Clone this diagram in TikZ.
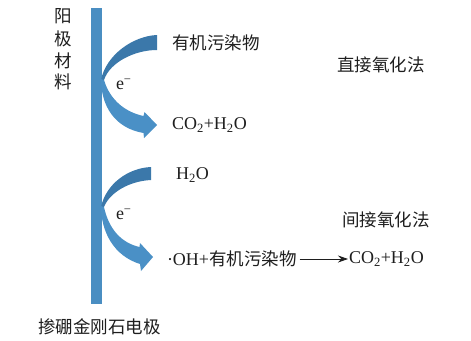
\documentclass[tikz,border=0pt]{standalone}
\usepackage{fontspec}
\setmainfont{Liberation Serif}
\newfontfamily\cjk{Noto Sans CJK SC}
\usetikzlibrary{arrows.meta}
\definecolor{barblue}{HTML}{4A8EC2}
\definecolor{darkblue}{HTML}{3B78AA}
\definecolor{lightblue}{HTML}{4A90C6}
\definecolor{txt}{HTML}{1E1E1E}
\tikzset{
  lbl/.style={inner sep=0pt, outer sep=1pt, text=txt, font=\fontsize{18}{21}\selectfont},
  cj/.style={lbl, font=\cjk\fontsize{17.5}{21}\selectfont},
  el/.style={lbl, font=\fontsize{18}{21}\selectfont},
}
\newcommand{\sub}[1]{\textsubscript{#1}}
\begin{document}
\begin{tikzpicture}[x=1pt,y=-1pt]
\useasboundingbox (0,0) rectangle (471,340);
% electrode bar
\fill[barblue] (91,8) rectangle (101.5,304);
% upper arrow
\fill[darkblue] (157,35) .. controls (133,36) and (106,55) .. (101,80) -- (104,80)
   .. controls (110,62) and (135,50) .. (157,50) -- cycle;
\fill[lightblue] (101,79) .. controls (101,105) and (114,128) .. (143.5,133)
   -- (144,138) -- (157,125) -- (144.5,112) -- (143.5,116)
   .. controls (125,112) and (110,100) .. (104,80) -- cycle;
% lower arrow
\fill[darkblue] (151,167) .. controls (128,168) and (106,184) .. (101,207) -- (104,207)
   .. controls (110,192) and (130,181) .. (151,180) -- cycle;
\fill[lightblue] (101,206) .. controls (101,232) and (114,256) .. (140,264)
   -- (141,271) -- (153,257) -- (140,243) -- (139.5,247)
   .. controls (122,243) and (109,230) .. (104,207) -- cycle;
% vertical label
\node[cj] (y1) at (63,16) {阳};
\node[cj] (y2) at (63,38.5) {极};
\node[cj] (y3) at (63,60.5) {材};
\node[cj] (y4) at (63,82) {料};
% electrons
\node[el, anchor=west] (e1) at (115,84) {e\textsuperscript{\char"2212}};
\node[el, anchor=west] (e2) at (115,214) {e\textsuperscript{\char"2212}};
% texts
\node[cj, anchor=west] (org) at (171,43) {有机污染物};
\node[el, anchor=west] (p1) at (171,125) {CO\sub{2}+H\sub{2}O};
\node[cj, anchor=west] (m1) at (336,65) {直接氧化法};
\node[el, anchor=west] (w) at (175,175) {H\sub{2}O};
\node[lbl, anchor=west] (oh) at (166,259) {·OH+{\cjk\fontsize{17.5}{21}\selectfont 有机污染物}};
\node[el, anchor=west] (p2) at (348,259) {CO\sub{2}+H\sub{2}O};
\node[cj, anchor=west] (m2) at (341,220) {间接氧化法};
\node[cj, anchor=west] (bdd) at (37,327) {掺硼金刚石电极};
\draw[txt, line width=0.8pt, -{Stealth[length=10pt,width=7pt]}] (oh.east) ++(2,0) coordinate (a0) (a0) -- (p2.west);
\end{tikzpicture}
\end{document}
